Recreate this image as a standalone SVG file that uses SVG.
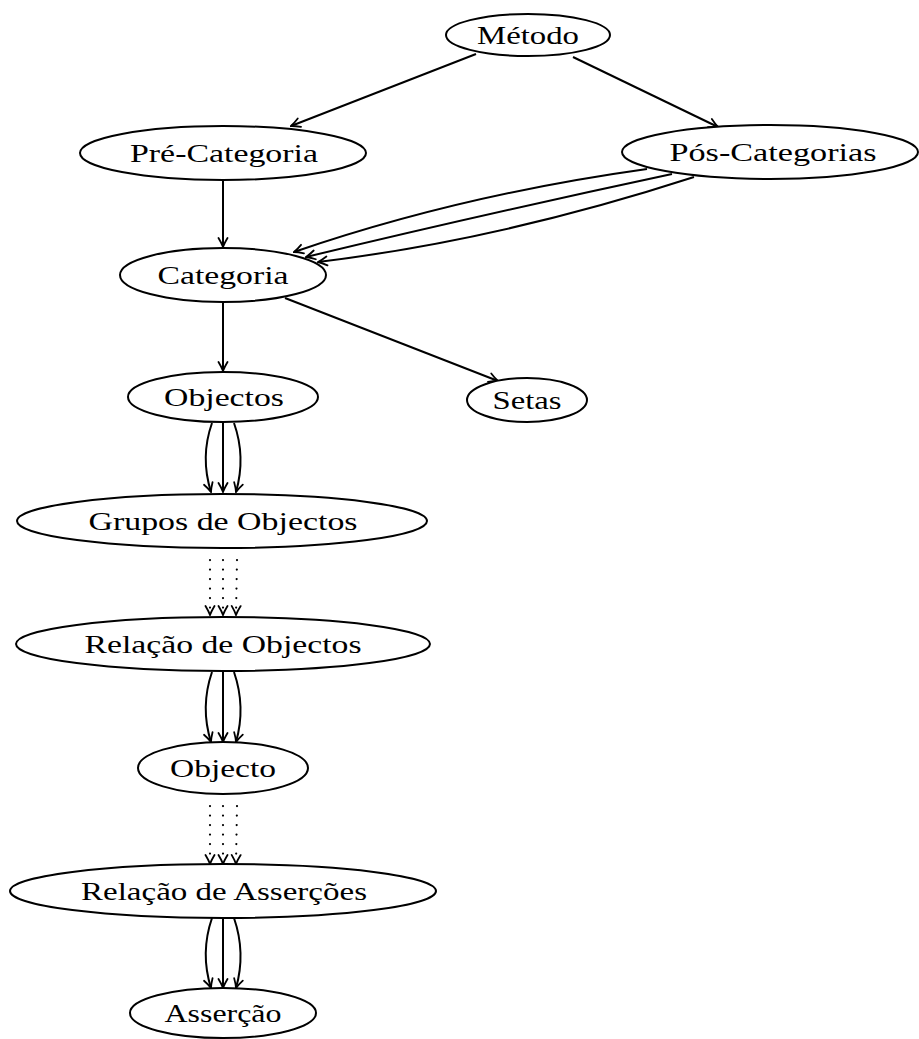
<svg xmlns="http://www.w3.org/2000/svg" width="919" height="1039" viewBox="0 0 919 1039">
  <style>
    .node ellipse { fill: #ffffff; stroke: #000000; stroke-width: 2; }
    .node text { font-family: "Liberation Serif", "DejaVu Serif", serif; font-size: 26px; fill: #000000; text-anchor: middle; }
    .edge { fill: none; stroke: #000000; stroke-width: 2; marker-end: url(#tip); }
    .dotted { stroke-dasharray: 0.1 9.4; stroke-linecap: round; stroke-width: 2.2; }
  </style>
  <defs>
    <marker id="tip" viewBox="-11 -6 12 12" refX="0" refY="0" markerWidth="12" markerHeight="12" markerUnits="userSpaceOnUse" orient="auto">
      <path d="M-9,-4.5 Q-3.5,-1.2 0,0 Q-3.5,1.2 -9,4.5" fill="none" stroke="#000000" stroke-width="1.8" stroke-linecap="round"/>
    </marker>
  </defs>

  <g id="connectors">
    <!-- Método fan-out -->
    <path class="edge" d="M476,54 L291,126"/>
    <path class="edge" d="M573,57 L718,127"/>
    <!-- Pré-Categoria to Categoria -->
    <path class="edge" d="M223,181 L223,247"/>
    <!-- Pós-Categorias to Categoria, three parallel arcs -->
    <path class="edge" d="M647,169 Q460,195 294,252"/>
    <path class="edge" d="M672,174 Q480,215 306,257"/>
    <path class="edge" d="M694,177 Q500,240 318,262"/>
    <!-- Categoria children -->
    <path class="edge" d="M223,302 L223,371"/>
    <path class="edge" d="M285,298 L498,381"/>
    <!-- Objectos to Grupos de Objectos -->
    <path class="edge" d="M212,423 Q200,457 211,492"/>
    <path class="edge" d="M223,423 L223,492"/>
    <path class="edge" d="M234,423 Q246,457 236,492"/>
    <!-- Grupos de Objectos to Relação de Objectos (dotted) -->
    <path class="edge dotted" d="M210,560 L210,615"/>
    <path class="edge dotted" d="M223,560 L223,615"/>
    <path class="edge dotted" d="M237,560 L236,615"/>
    <!-- Relação de Objectos to Objecto -->
    <path class="edge" d="M212,672 Q200,707 211,742"/>
    <path class="edge" d="M223,672 L223,742"/>
    <path class="edge" d="M234,672 Q246,707 236,742"/>
    <!-- Objecto to Relação de Asserções (dotted) -->
    <path class="edge dotted" d="M210,806 L210,864"/>
    <path class="edge dotted" d="M223,806 L223,864"/>
    <path class="edge dotted" d="M237,806 L236,864"/>
    <!-- Relação de Asserções to Asserção -->
    <path class="edge" d="M212,918 Q200,953 211,988"/>
    <path class="edge" d="M223,918 L223,988"/>
    <path class="edge" d="M234,918 Q246,953 236,988"/>
  </g>

  <g id="metodo" class="node">
    <ellipse cx="528" cy="35" rx="82" ry="21"/>
    <text x="528" y="44" textLength="102" lengthAdjust="spacingAndGlyphs">Método</text>
  </g>
  <g id="pre-categoria" class="node">
    <ellipse cx="223" cy="153" rx="143" ry="27"/>
    <text x="224" y="162" textLength="188" lengthAdjust="spacingAndGlyphs">Pré-Categoria</text>
  </g>
  <g id="pos-categorias" class="node">
    <ellipse cx="770" cy="152" rx="148" ry="27"/>
    <text x="773" y="161" textLength="207" lengthAdjust="spacingAndGlyphs">Pós-Categorias</text>
  </g>
  <g id="categoria" class="node">
    <ellipse cx="223" cy="275" rx="103" ry="27"/>
    <text x="223" y="284" textLength="131" lengthAdjust="spacingAndGlyphs">Categoria</text>
  </g>
  <g id="objectos" class="node">
    <ellipse cx="223" cy="397" rx="95" ry="25"/>
    <text x="224" y="406" textLength="120" lengthAdjust="spacingAndGlyphs">Objectos</text>
  </g>
  <g id="setas" class="node">
    <ellipse cx="527" cy="400" rx="60" ry="22"/>
    <text x="527" y="409" textLength="69" lengthAdjust="spacingAndGlyphs">Setas</text>
  </g>
  <g id="grupos-de-objectos" class="node">
    <ellipse cx="222" cy="521" rx="205" ry="27"/>
    <text x="223" y="530" textLength="269" lengthAdjust="spacingAndGlyphs">Grupos de Objectos</text>
  </g>
  <g id="relacao-de-objectos" class="node">
    <ellipse cx="223" cy="644" rx="207" ry="27"/>
    <text x="223" y="653" textLength="277" lengthAdjust="spacingAndGlyphs">Relação de Objectos</text>
  </g>
  <g id="objecto" class="node">
    <ellipse cx="223" cy="768" rx="85" ry="26"/>
    <text x="223" y="777" textLength="106" lengthAdjust="spacingAndGlyphs">Objecto</text>
  </g>
  <g id="relacao-de-assercoes" class="node">
    <ellipse cx="223" cy="891" rx="213" ry="27"/>
    <text x="224" y="900" textLength="286" lengthAdjust="spacingAndGlyphs">Relação de Asserções</text>
  </g>
  <g id="assercao" class="node">
    <ellipse cx="223" cy="1013" rx="93" ry="25"/>
    <text x="223" y="1022" textLength="117" lengthAdjust="spacingAndGlyphs">Asserção</text>
  </g>
</svg>
